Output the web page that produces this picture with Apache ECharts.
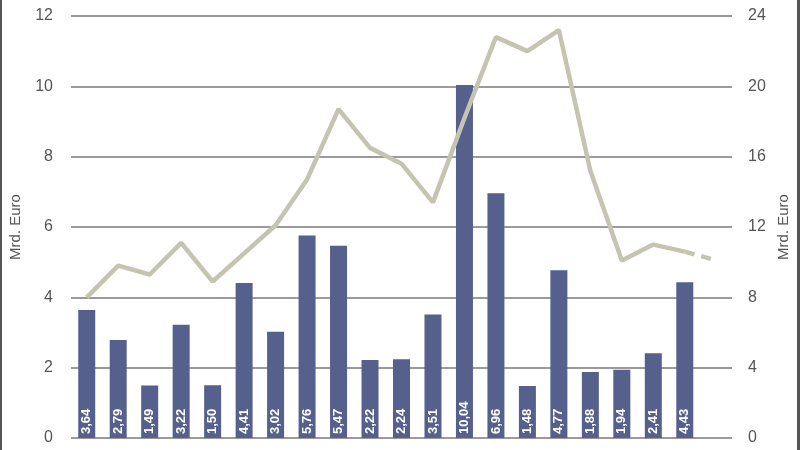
<!DOCTYPE html>
<html>
<head>
<meta charset="utf-8">
<title>Mrd. Euro</title>
<script src="https://cdn.jsdelivr.net/npm/echarts@6/dist/echarts.min.js"></script>
<style>
    html, body { margin: 0; padding: 0; background: #fff; }
    #chart { width: 800px; height: 450px; }
</style>
</head>
<body>
<div id="chart"></div>
<script>
// Kategorien (21 Positionen, letzte ohne Balken)
var categories = ["1","2","3","4","5","6","7","8","9","10","11","12","13","14","15","16","17","18","19","20","21"];
// Balken, linke Achse (Mrd. Euro)
var barValues = [3.64, 2.79, 1.49, 3.22, 1.50, 4.41, 3.02, 5.76, 5.47, 2.22, 2.24, 3.51, 10.04, 6.96, 1.48, 4.77, 1.88, 1.94, 2.41, 4.43, "-"];
// Linie, rechte Achse (Mrd. Euro)
var lineValues = [8.0, 9.8, 9.3, 11.1, 8.9, 10.5, 12.1, 14.7, 18.7, 16.5, 15.6, 13.4, 18.2, 22.8, 22.0, 23.2, 15.2, 10.1, 11.0, 10.6, "-"];
// gestrichelter Schluss der Linie
var lineTail = ["-", "-", "-", "-", "-", "-", "-", "-", "-", "-", "-", "-", "-", "-", "-", "-", "-", "-", "-", 10.6, 10.1];
// Achsenbeschriftung
var leftTicks = [0, 12, 2];
var rightTicks = [0, 24, 4];

var chart = echarts.init(document.getElementById('chart'));

var labelStyle = { color: '#555', fontSize: 16, fontFamily: 'Liberation Sans, Arial, sans-serif' };
var nameStyle = { color: '#555', fontSize: 15, fontFamily: 'Liberation Sans, Arial, sans-serif' };

chart.setOption({
    animation: false,
    grid: { left: 68, right: 68, top: 16, bottom: 12 },
    // Rahmen links und rechts
    graphic: [
        { type: 'rect', left: 0, top: 0, shape: { width: 2, height: 450 }, style: { fill: '#555' } },
        { type: 'rect', left: 797, top: 0, shape: { width: 3, height: 450 }, style: { fill: '#555' } }
    ],
    xAxis: {
        type: 'category',
        data: categories,
        axisLine: { show: false },
        axisTick: { show: false },
        axisLabel: { show: false }
    },
    yAxis: [
        {
            type: 'value',
            min: leftTicks[0], max: leftTicks[1], interval: leftTicks[2],
            name: 'Mrd. Euro',
            nameLocation: 'middle',
            nameGap: 48,
            nameTextStyle: nameStyle,
            axisLine: { show: false },
            axisTick: { show: false },
            axisLabel: Object.assign({ margin: 18 }, labelStyle),
            splitLine: { lineStyle: { color: '#7a7a7a', width: 1.5 } }
        },
        {
            type: 'value',
            min: rightTicks[0], max: rightTicks[1], interval: rightTicks[2],
            name: 'Mrd. Euro',
            nameLocation: 'middle',
            nameRotate: 90,
            nameGap: 44,
            nameTextStyle: nameStyle,
            axisLine: { show: false },
            axisTick: { show: false },
            axisLabel: Object.assign({ margin: 16 }, labelStyle),
            splitLine: { show: false }
        }
    ],
    series: [
        {
            type: 'bar',
            yAxisIndex: 0,
            data: barValues,
            barWidth: 17,
            itemStyle: { color: '#56608c' },
            label: {
                show: true,
                position: 'insideBottom',
                rotate: 90,
                align: 'left',
                verticalAlign: 'middle',
                distance: 4,
                color: '#fff',
                fontWeight: 'bold',
                fontSize: 13,
                fontFamily: 'Liberation Sans Narrow, Liberation Sans, Arial, sans-serif',
                formatter: function (p) {
                    return p.value.toFixed(2).replace('.', ',');
                }
            },
            z: 2
        },
        {
            type: 'line',
            yAxisIndex: 1,
            data: lineValues,
            symbol: 'none',
            lineStyle: { color: '#c4c4b0', width: 4.5 },
            z: 3
        },
        {
            type: 'line',
            yAxisIndex: 1,
            data: lineTail,
            symbol: 'none',
            lineStyle: { color: '#c4c4b0', width: 4.5, type: [10, 7] },
            z: 3
        }
    ]
});
</script>
</body>
</html>
